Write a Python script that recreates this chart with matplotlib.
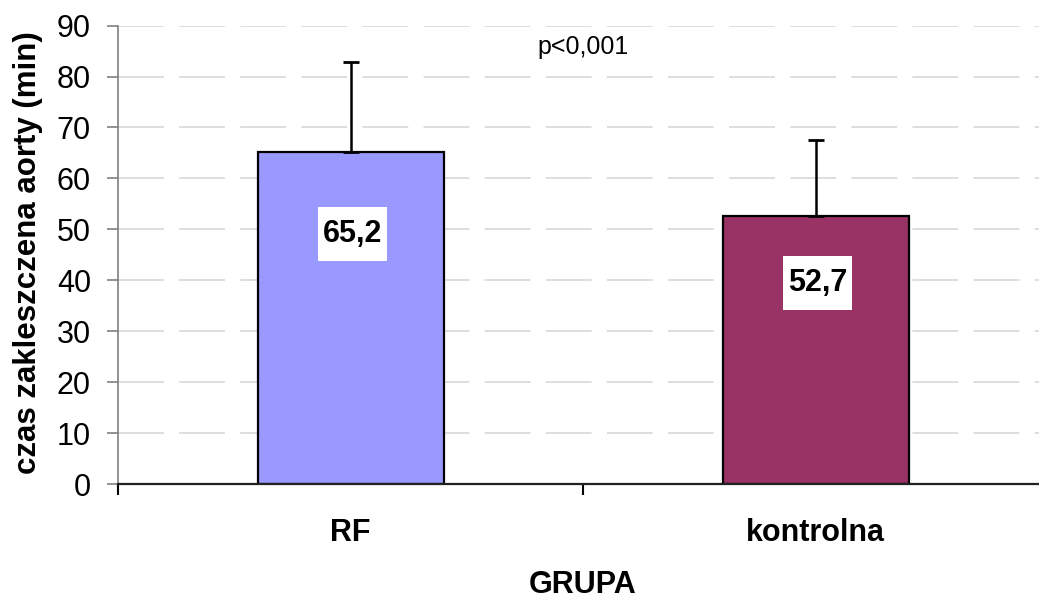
import numpy as np
import matplotlib
matplotlib.use("Agg")
import matplotlib.pyplot as plt
from matplotlib.patches import Rectangle
from matplotlib.ticker import FixedLocator

plt.rcParams["font.family"] = ["Liberation Sans", "DejaVu Sans"]

# dane
grupy = ["RF", "kontrolna"]
srednie = [65.2, 52.7]
odch_gora = [17.6, 14.8]
etykiety = ["65,2", "52,7"]
poz_etykiet = [49.1, 39.5]
kolory = ["#9999FF", "#993366"]
y_ticks = [0, 10, 20, 30, 40, 50, 60, 70, 80, 90]

fig = plt.figure(figsize=(10.39, 5.98), dpi=100)
ax = fig.add_axes([0.1136, 0.1901, 0.8951, 0.7672])

x = np.arange(len(grupy))

ax.set_axisbelow(True)
ax.yaxis.grid(True, color="#d4d4d4", linewidth=1.1, linestyle=(0, (30, 10)))

ax.bar(x, srednie, width=0.4, color=kolory, edgecolor="black", linewidth=1.6, zorder=2)

ax.errorbar(x, srednie, yerr=[np.zeros(len(srednie)), odch_gora], fmt="none",
            ecolor="black", elinewidth=1.8, capsize=5.8, capthick=2.0, zorder=3)

# białe pola z wartościami (szerokość/wysokość w jednostkach danych)
box_w, box_h = 0.148, 10.6
for xi, txt, yi in zip(x, etykiety, poz_etykiet):
    ax.add_patch(Rectangle((xi + 0.005 - box_w / 2, yi - box_h / 2), box_w, box_h,
                           facecolor="white", edgecolor="none", zorder=4))
    ax.text(xi + 0.005, yi, txt, ha="center", va="center", fontsize=22,
            fontweight="bold", zorder=5)

ax.text(0.5, 85.7, "p<0,001", ha="center", va="center", fontsize=18)

ax.set_xlim(-0.5, 1.5)
ax.set_ylim(0, 90)
ax.set_yticks(y_ticks)
ax.tick_params(axis="y", labelsize=22, length=8, width=1.2, color="#808080", pad=11.5)

ax.set_xticks(x)
ax.set_xticklabels(grupy, fontsize=22, fontweight="bold")
ax.xaxis.set_minor_locator(FixedLocator([-0.5, 0.5, 1.5]))
ax.tick_params(axis="x", which="major", length=0, pad=24)
ax.tick_params(axis="x", which="minor", length=8, width=1.5, color="black")

ax.set_xlabel("GRUPA", fontsize=22, fontweight="bold", labelpad=16)
ax.set_ylabel("czas zakleszczena aorty (min)", fontsize=22.5, fontweight="bold")
ax.yaxis.set_label_coords(-0.081, 0.505)

for s in ["top", "right"]:
    ax.spines[s].set_visible(False)
ax.spines["left"].set_color("#808080")
ax.spines["left"].set_linewidth(1.2)
ax.spines["bottom"].set_color("#222222")
ax.spines["bottom"].set_linewidth(1.6)

fig.savefig("out.png", dpi=100)
